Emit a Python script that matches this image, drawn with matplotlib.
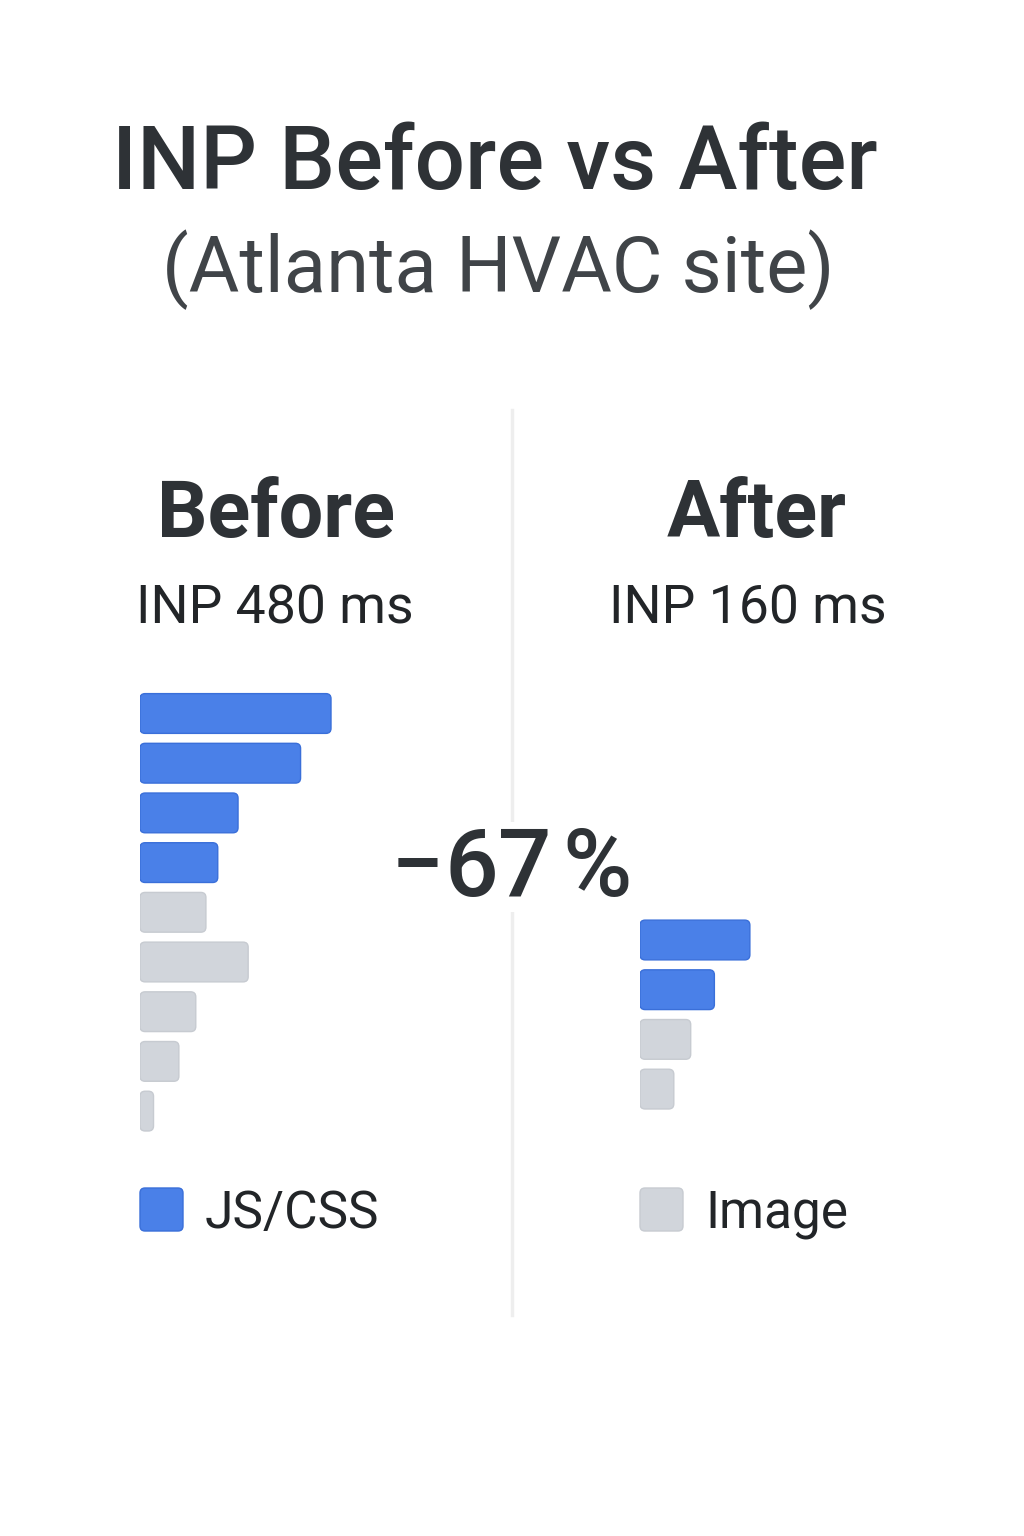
import matplotlib.pyplot as plt
from matplotlib.patches import FancyBboxPatch

plt.rcParams['font.family'] = ['Roboto', 'DejaVu Sans']

# contribution to INP per task, ms
before_ms = [113, 95, 58, 46, 39, 64, 33, 23, 8]
before_kind = ['js', 'js', 'js', 'js', 'img', 'img', 'img', 'img', 'img']
after_ms = [65, 44, 30, 20]
after_kind = ['js', 'js', 'img', 'img']

title = 'INP Before vs After'
subtitle = '(Atlanta HVAC site)'
panels = ['Before', 'After']
inp_labels = ['INP 480 ms', 'INP 160 ms']
change_parts = ['\u2212', '67', '%']
legend_labels = ['JS/CSS', 'Image']

colors = {'js': '#4a80e8', 'img': '#d1d5db'}
edges = {'js': '#3a6fd9', 'img': '#c7cbd1'}
dark = '#2e3236'

W, H = 1024, 1536
fig = plt.figure(figsize=(W / 100, H / 100), dpi=100)

# overlay in pixel coords for text / decoration
ov = fig.add_axes([0, 0, 1, 1])
ov.set_xlim(0, W)
ov.set_ylim(H, 0)
ov.axis('off')

PX_PER_MS = 191 / 113
PITCH = 49.7


def bar_panel(left_px, top_px, vals, kinds):
    n = len(vals)
    xmax = 200
    w_px = xmax * PX_PER_MS
    h_px = n * PITCH
    ax = fig.add_axes([left_px / W, 1 - (top_px + h_px) / H, w_px / W, h_px / H])
    ax.set_xlim(0, xmax)
    ax.set_ylim(n - 0.5, -0.5)
    ax.axis('off')
    aspect = (1 / PITCH) / (1 / PX_PER_MS)
    for i, (v, k) in enumerate(zip(vals, kinds)):
        ax.add_patch(FancyBboxPatch((0, i - 0.4), v, 0.8,
                                    boxstyle='round,pad=0,rounding_size=3',
                                    mutation_aspect=aspect,
                                    fc=colors[k], ec=edges[k], lw=1))
    return ax


bar_panel(140, 713.5 - PITCH / 2, before_ms, before_kind)
bar_panel(640, 940 - PITCH / 2, after_ms, after_kind)

# divider
ov.plot([512, 512], [410, 1315], color='#eeeeee', lw=2.5, zorder=0)
ov.add_patch(plt.Rectangle((500, 822), 24, 90, fc='white', ec='none', zorder=1))

ov.text(495, 164, title, ha='center', va='center', fontsize=64,
        fontweight='medium', color=dark)
ov.text(498, 270, subtitle, ha='center', va='center', fontsize=56,
        color='#404448')

for cx, lx, name, lab in zip([276, 757], [275, 748], panels, inp_labels):
    ov.text(cx, 516, name, ha='center', va='center', fontsize=57,
            fontweight='bold', color=dark)
    ov.text(lx, 609, lab, ha='center', va='center', fontsize=38.5,
            color='#222528')

for cx, part in zip([417, 498, 597], change_parts):
    ov.text(cx, 870, part, ha='center', va='center', fontsize=68,
            fontweight='medium', color=dark, zorder=2)

for x0, k, lab in zip([140, 640], ['js', 'img'], legend_labels):
    ov.add_patch(FancyBboxPatch((x0, 1188), 43, 43,
                                boxstyle='round,pad=0,rounding_size=5',
                                fc=colors[k], ec=edges[k], lw=1))
    ov.text(x0 + 65, 1214, lab, ha='left', va='center', fontsize=37,
            color='#222528')

fig.savefig('out.png', dpi=100, facecolor='white')
